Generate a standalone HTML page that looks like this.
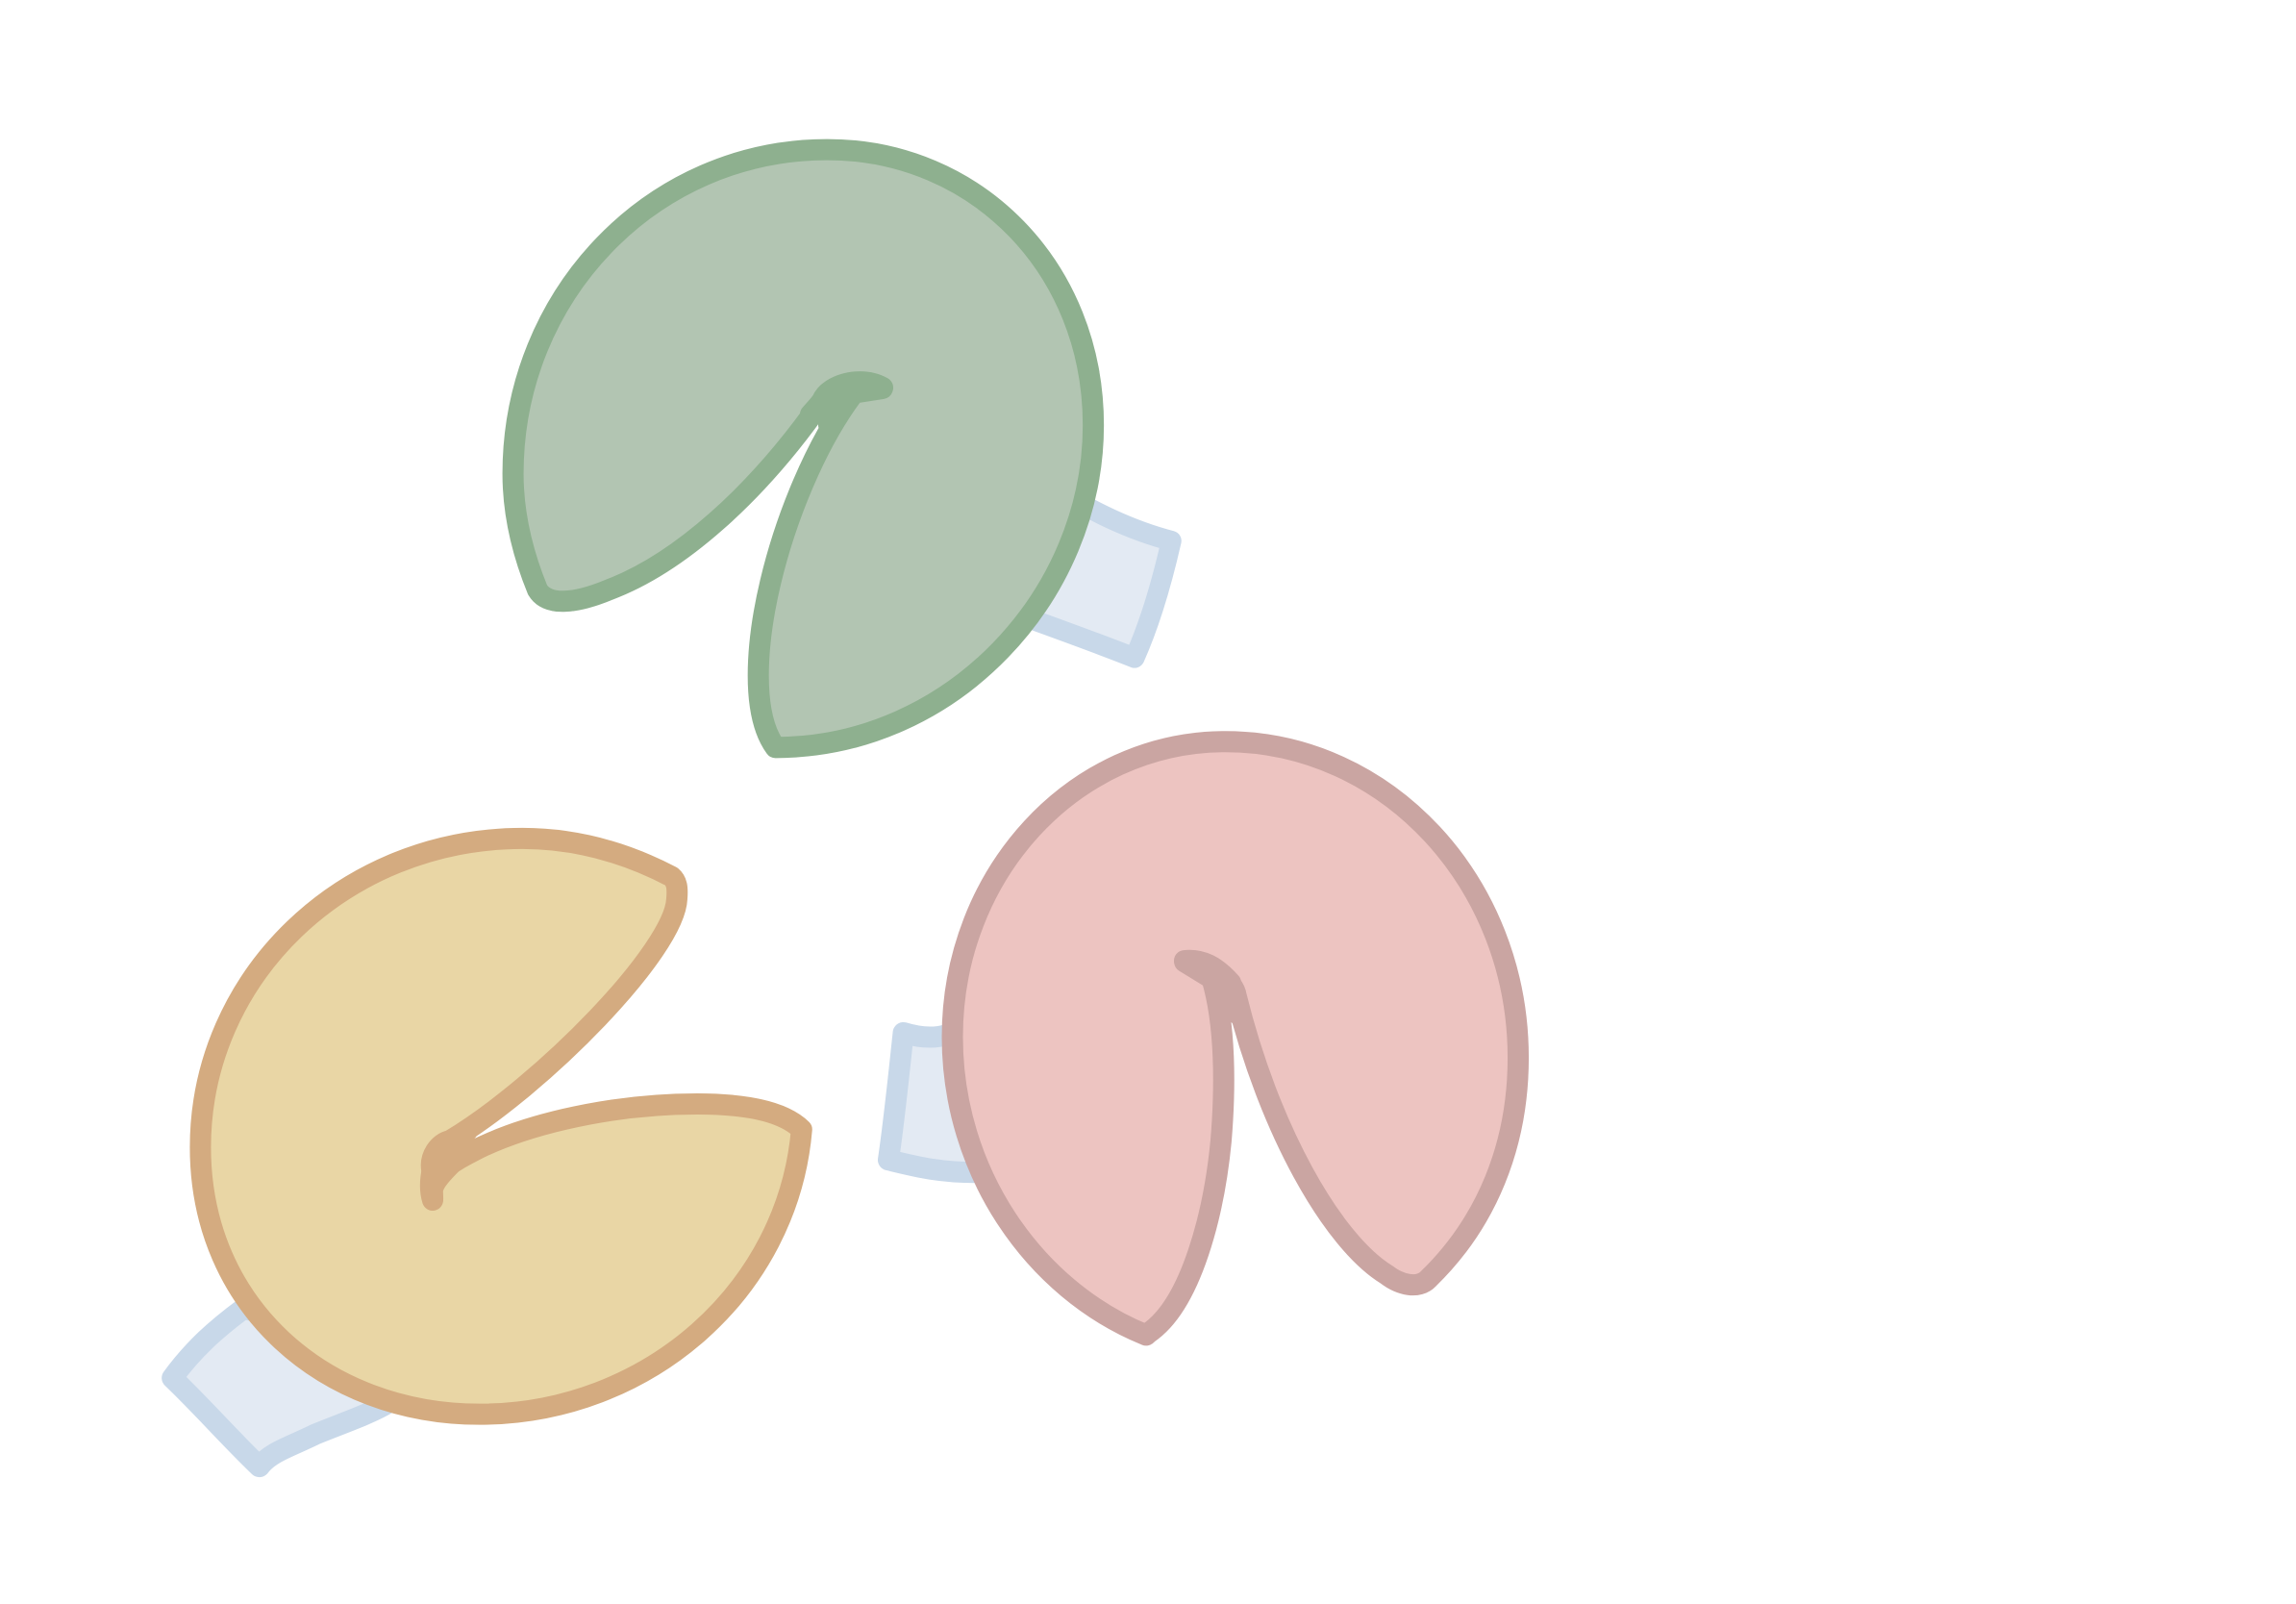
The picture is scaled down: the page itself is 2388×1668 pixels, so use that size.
<!DOCTYPE html>
<html lang="en">
<head>
<meta charset="utf-8">
<title>Fortune cookies</title>
<style>
html,body{margin:0;padding:0;background:#fff;}
svg{display:block;}
.s{vector-effect:non-scaling-stroke;}
</style>
</head>
<body>
<svg xmlns="http://www.w3.org/2000/svg" width="2388" height="1668" viewBox="0 0 2388 1668" stroke-linejoin="round" stroke-linecap="round">
  <rect width="2388" height="1668" fill="#ffffff"/>

  <g transform="translate(480 100) scale(0.5102 0.4592)">
    <path class="s" fill="#e3eaf3" stroke="#c8d8e9" stroke-width="21"
      d="M1200 880 C1280 940 1370 985 1447 1007 C1430 1090 1405 1190 1372 1272 C1300 1240 1200 1200 1100 1160 Z"/>
    <path class="s" fill="#b2c5b2" stroke="#8eb08f" stroke-width="22"
      d="M640 1475 C1000 1475 1288 1130 1288 745 C1288 390 1050 121 745 121 C390 121 105 450 105 855 C105 960 130 1050 155 1118 C175 1155 230 1150 300 1118 C440 1060 600 905 735 690 C750 650 810 640 858 662 L800 672 C720 790 660 960 630 1100 C600 1240 590 1400 640 1475 Z"/>
  </g>
  <path fill="none" stroke="#8eb08f" stroke-width="22"
    d="M918 403 C902 394 880 396 866 405 L843 431 M868 405 L862 442 M880 412 L862 442"/>

  <g transform="translate(140 830) scale(0.47194 0.4656)">
    <path class="s" fill="#e3eaf3" stroke="#c8d8e9" stroke-width="22"
      d="M240 1140 C180 1185 130 1230 83 1295 C150 1360 210 1430 275 1493 C300 1460 340 1450 400 1420 C460 1395 520 1375 560 1350 L500 1200 Z"/>
    <path class="s" fill="#e9d6a5" stroke="#d4ab80" stroke-width="22"
      d="M1183 175 C1060 110 950 90 855 90 C460 90 145 400 145 780 C145 1135 420 1376 760 1376 C1130 1376 1440 1100 1470 740 C1430 700 1350 683 1240 683 C1050 683 830 730 700 815 C665 850 650 870 657 895 L655 830 C650 800 670 770 695 765 C900 640 1190 340 1195 225 C1197 200 1195 185 1183 175 Z"/>
  </g>
  <path fill="none" stroke="#d4ab80" stroke-width="22"
    d="M450 1248 C446 1235 447 1215 458 1197 L486 1176 M458 1197 L496 1195 M458 1215 L496 1195"/>

  <g transform="translate(890 740) scale(0.47194 0.4337)">
    <path class="s" fill="#e3eaf3" stroke="#c8d8e9" stroke-width="22"
      d="M200 775 C170 785 135 780 105 770 C95 870 85 980 72 1075 C130 1090 180 1105 265 1105 L300 900 Z"/>
    <path class="s" fill="#edc4c1" stroke="#caa5a2" stroke-width="22"
      d="M640 1495 C390 1385 213 1100 213 780 C213 390 480 72 815 72 C1170 72 1460 410 1460 830 C1460 1040 1390 1225 1262 1360 C1240 1385 1200 1375 1170 1350 C1050 1270 910 1000 838 680 C835 650 780 595 725 600 L785 640 C815 750 815 900 805 1030 C790 1200 740 1420 645 1490 Z"/>
  </g>
  <path fill="none" stroke="#caa5a2" stroke-width="22"
    d="M1232 999 C1250 997 1265 1005 1280 1022 L1288 1055 M1262 1015 L1270 1060 M1272 1020 L1282 1045"/>
</svg>
</body>
</html>
